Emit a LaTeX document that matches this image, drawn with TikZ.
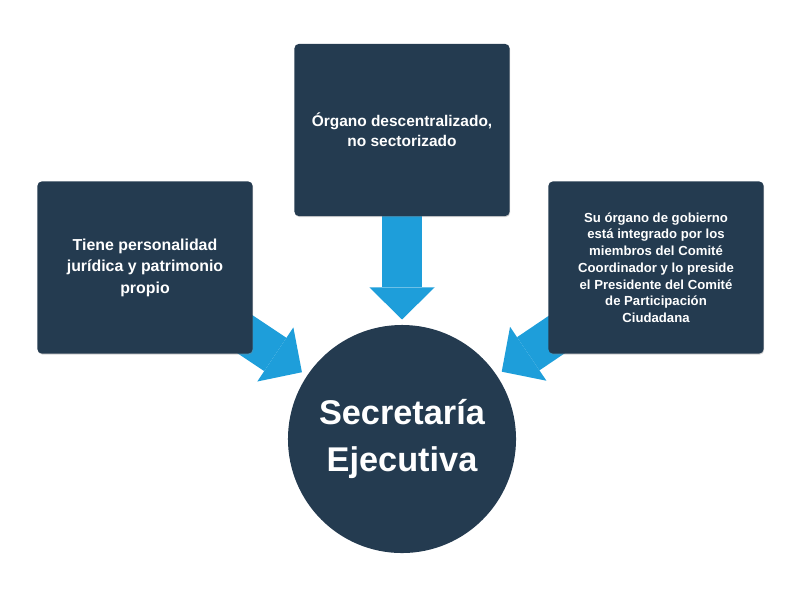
\documentclass[tikz,border=0pt]{standalone}
\usepackage{fontspec}
\setmainfont{Liberation Sans}
\usetikzlibrary{arrows.meta,shadows,backgrounds}

\definecolor{navy}{RGB}{36,59,80}
\definecolor{sky}{RGB}{30,158,218}

\tikzstyle{box} = [rectangle, rounded corners=3pt, fill=navy, text=white, align=center,
    minimum width=5.375cm, minimum height=4.3cm, inner sep=0pt,
    font=\bfseries\fontsize{11.3}{15.3}\selectfont,
    drop shadow={shadow xshift=0.4pt, shadow yshift=-0.7pt, opacity=0.35}]
\tikzstyle{hub} = [circle, fill=navy, text=white, align=center, minimum size=5.7cm,
    inner sep=0pt, font=\bfseries\fontsize{24.4}{33.4}\selectfont]
\tikzstyle{flow} = [draw=sky, line width=1cm,
    -{Triangle[length=0.8cm, width=1.625cm, line width=0pt]}]

\begin{document}
\begin{tikzpicture}[x=0.025cm, y=-0.025cm]
\useasboundingbox (0,0) rectangle (800,600);

\node[box] (juridica) at (145,267.5) {Tiene personalidad\\jurídica y patrimonio\\propio};
\node[box, font=\bfseries\fontsize{11}{14.2}\selectfont] (organo) at (402,130)
    {Órgano descentralizado,\\no sectorizado};
\node[box, font=\bfseries\fontsize{9.35}{11.9}\selectfont] (gobierno) at (656,267.5)
    {Su órgano de gobierno\\está integrado por los\\miembros del Comité\\Coordinador y lo preside\\el Presidente del Comité\\de Participación\\Ciudadana};
\node[hub] (se) at (402,439) {Secretaría\\Ejecutiva};

% arrows behind the boxes
\begin{scope}[on background layer]
    \draw[flow, shorten >=0.15cm] (juridica.center) -- (se);
    \draw[flow, shorten >=0.13cm] (organo.center) -- (se);
    \draw[flow, shorten >=0.15cm] (gobierno.center) -- (se);
\end{scope}
\end{tikzpicture}
\end{document}
